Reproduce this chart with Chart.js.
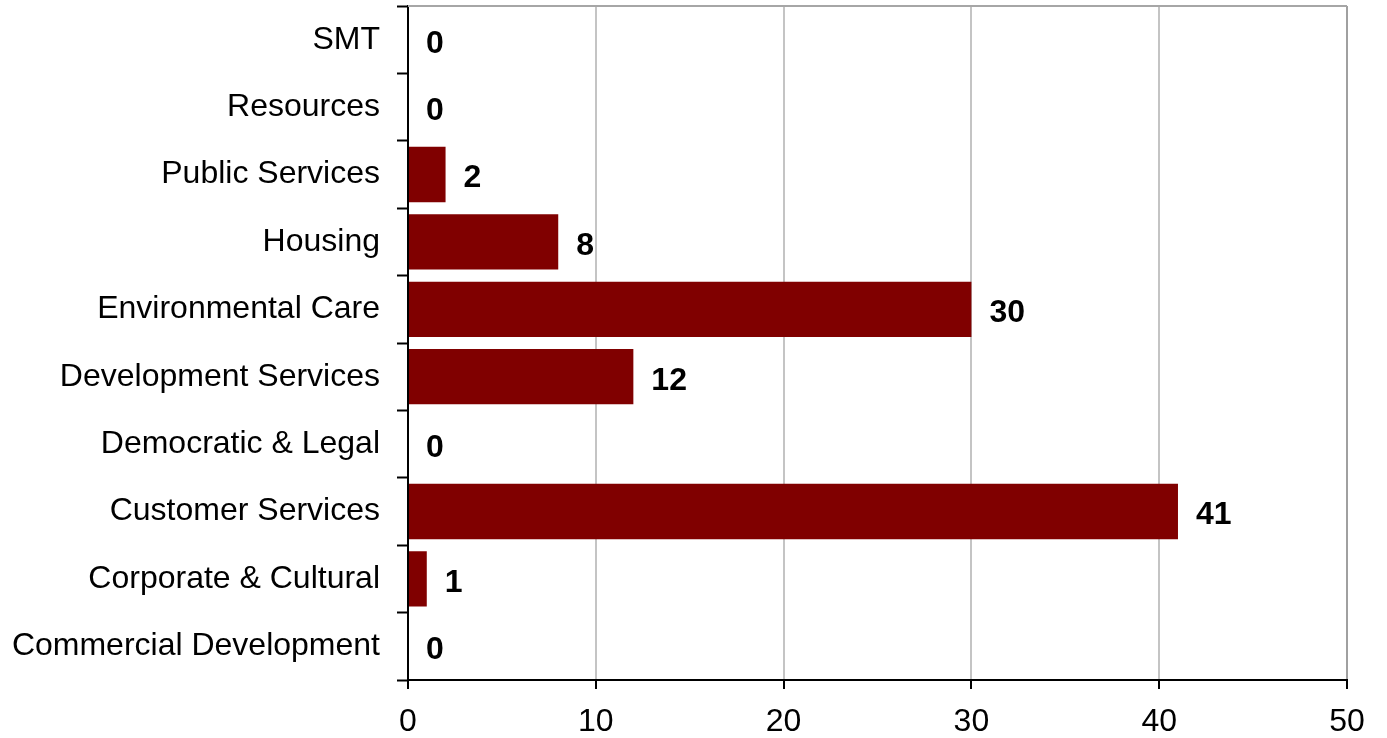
<!DOCTYPE html>
<html>
<head>
<meta charset="utf-8">
<script src="https://cdn.jsdelivr.net/npm/chart.js@4/dist/chart.umd.min.js"></script>
<style>
	html, body { margin: 0; padding: 0; background: #fff; }
	#wrap { width: 1387px; height: 738px; }
</style>
</head>
<body>
<div id="wrap"><canvas id="barChart" width="1387" height="738"></canvas></div>
<script>
// departments, top to bottom
const departments = [
	'SMT',
	'Resources',
	'Public Services',
	'Housing',
	'Environmental Care',
	'Development Services',
	'Democratic & Legal',
	'Customer Services',
	'Corporate & Cultural',
	'Commercial Development'
];
const counts = [0, 0, 2, 8, 30, 12, 0, 41, 1, 0];

const axisMin = 0;
const axisMax = 50;
const axisStep = 10;

const ctx = document.getElementById('barChart').getContext('2d');

// write the count just past the end of each bar
const valueLabels = {
	id: 'valueLabels',
	afterDatasetsDraw(chart) {
		const { ctx, data } = chart;
		ctx.save();
		ctx.font = 'bold 32px Arial, "Liberation Sans"';
		ctx.textAlign = 'left';
		ctx.textBaseline = 'middle';
		ctx.fillStyle = '#000';
		data.datasets.forEach((dataset, i) => {
			chart.getDatasetMeta(i).data.forEach((bar, index) => {
				ctx.fillText(dataset.data[index], bar.x + 18, bar.y + 4);
			});
		});
		ctx.restore();
	}
};

// thin grey frame line along the top of the plot
const topLine = {
	id: 'topLine',
	beforeDatasetsDraw(chart) {
		const { ctx, chartArea: { top, left, right } } = chart;
		ctx.save();
		ctx.strokeStyle = '#a6a6a6';
		ctx.lineWidth = 2;
		ctx.beginPath();
		ctx.moveTo(left, top);
		ctx.lineTo(right, top);
		ctx.stroke();
		ctx.restore();
	}
};

const barChart = new Chart(ctx, {
	type: 'bar',
	data: {
		labels: departments,
		datasets: [{
			data: counts,
			backgroundColor: '#800000',
			borderWidth: 0,
			categoryPercentage: 1,
			barPercentage: 0.82
		}]
	},
	options: {
		indexAxis: 'y',
		responsive: false,
		animation: false,
		layout: { padding: { top: 6, right: 40, left: 0, bottom: 0 } },
		plugins: {
			legend: { display: false },
			tooltip: { enabled: false }
		},
		scales: {
			x: {
				min: axisMin,
				max: axisMax,
				border: { color: '#000', width: 2 },
				grid: {
					color: (c) => c.index === 5 ? '#a0a0a0' : '#c4c4c4',
					lineWidth: 2,
					tickLength: 9,
					tickColor: '#000',
					tickWidth: 2
				},
				ticks: {
					stepSize: axisStep,
					color: '#000',
					font: { family: 'Arial, "Liberation Sans"', size: 32 },
					padding: 14
				},
				afterFit(scale) {
					scale.height = 58;
					scale.paddingLeft = 0;
					scale.paddingRight = 0;
				}
			},
			y: {
				border: { color: '#000', width: 2 },
				grid: {
					offset: true,
					drawOnChartArea: false,
					tickLength: 11,
					tickColor: '#000',
					tickWidth: 2
				},
				ticks: {
					color: '#000',
					font: { family: 'Arial, "Liberation Sans"', size: 32 },
					padding: 17
				},
				afterFit(scale) {
					scale.width = 408;
					scale.paddingTop = 0;
					scale.paddingBottom = 0;
				}
			}
		}
	},
	plugins: [valueLabels, topLine]
});
</script>
</body>
</html>
